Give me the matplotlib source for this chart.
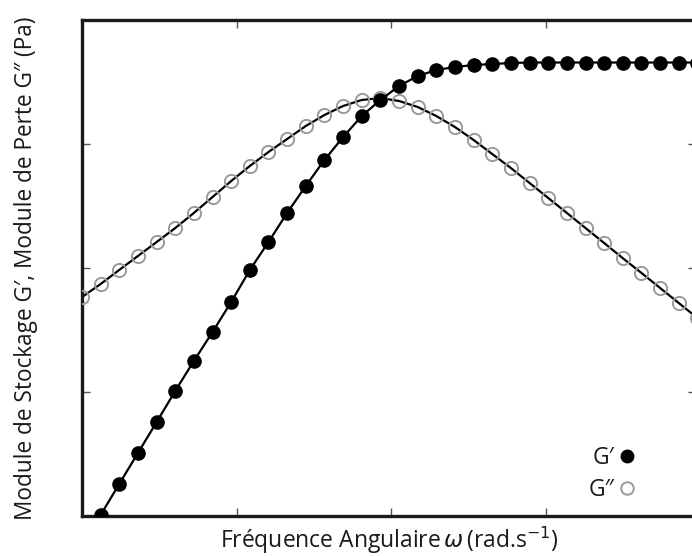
import matplotlib
matplotlib.use("Agg")
import matplotlib.pyplot as plt
from matplotlib.lines import Line2D

plt.rcParams['font.family'] = ['Open Sans', 'DejaVu Sans']
plt.rcParams['mathtext.fontset'] = 'dejavusans'

# Angular frequency (rad/s) for each measured point
omega = [0.100, 0.132, 0.174, 0.230, 0.304, 0.401, 0.529, 0.699, 0.922,
         1.217, 1.607, 2.121, 2.800, 3.697, 4.880, 6.442, 8.504, 11.23,
         14.82, 19.56, 25.82, 34.09, 45.0, 59.4, 78.4, 103.5, 136.7,
         180.4, 238.2, 314.4, 415.0, 547.9, 723.3, 954.6]

# Storage modulus G' (Pa) - first point lies below the axis range
omega_gp = omega[1:]
g_prime = [1.02, 1.81, 3.22, 5.73, 10.2, 17.8, 30.5, 53.2, 96.4, 162,
           278, 459, 743, 1138, 1682, 2264, 2936, 3535, 3953, 4178, 4335,
           4416, 4499, 4541, 4541, 4541, 4541, 4541, 4541, 4541, 4541,
           4541, 4541]

# Loss modulus G'' (Pa)
g_second = [58.3, 74.3, 96.4, 125, 162, 210, 278, 374, 503, 665, 862,
            1097, 1397, 1713, 2025, 2264, 2349, 2222, 1988, 1682, 1371,
            1077, 830, 640, 485, 367, 278, 210, 159, 120, 91.2, 69.0,
            52.2, 39.5]

x_ticks = [1, 10, 100]
y_ticks = [10, 100, 1000]

fig = plt.figure(figsize=(6.92, 5.56), dpi=100)
ax = fig.add_axes([82/692, 40/556, 614/692, 496/556])

ax.plot(omega, g_second, color='black', lw=1.6, zorder=2)
ax.plot(omega, g_second, linestyle='none', marker='o', ms=9.5,
        mfc='none', mec='#9a9a9a', mew=1.4, zorder=3)
ax.plot(omega_gp, g_prime, color='black', lw=1.6, zorder=4,
        marker='o', ms=9.5, mfc='black', mec='black')

ax.set_xscale('log')
ax.set_yscale('log')
ax.set_xlim(0.1, 935)
ax.set_ylim(1, 10000)
ax.set_xticks(x_ticks)
ax.set_yticks(y_ticks)
ax.xaxis.set_minor_locator(matplotlib.ticker.NullLocator())
ax.yaxis.set_minor_locator(matplotlib.ticker.NullLocator())
ax.set_xticklabels([])
ax.set_yticklabels([])
ax.tick_params(direction='in', length=6, width=1, color='#555555',
               top=True, right=True)
for s in ax.spines.values():
    s.set_linewidth(2.4)
    s.set_color('#1a1a1a')
ax.spines['right'].set_visible(False)

ax.set_xlabel('Fréquence Angulaire$\\,\\omega\\,$(rad.s$^{-1}$)',
              fontsize=16.5, labelpad=3, color='#1a1a1a')
ax.set_ylabel('Module de Stockage G′, Module de Perte G″ (Pa)',
              fontsize=16.3, labelpad=28, color='#1a1a1a')

handles = [Line2D([], [], linestyle='none', marker='o', ms=9, mfc='black',
                  mec='black'),
           Line2D([], [], linestyle='none', marker='o', ms=9, mfc='none',
                  mec='#9a9a9a', mew=1.4)]
ax.legend(handles, ['G′', 'G″'], markerfirst=False, frameon=False,
          loc='lower right', bbox_to_anchor=(0.925, -0.005), fontsize=16.5,
          handlelength=0.6, handletextpad=0.25, labelspacing=0.38,
          borderpad=0.2, labelcolor='#1a1a1a')

fig.savefig('out.png', dpi=100)
